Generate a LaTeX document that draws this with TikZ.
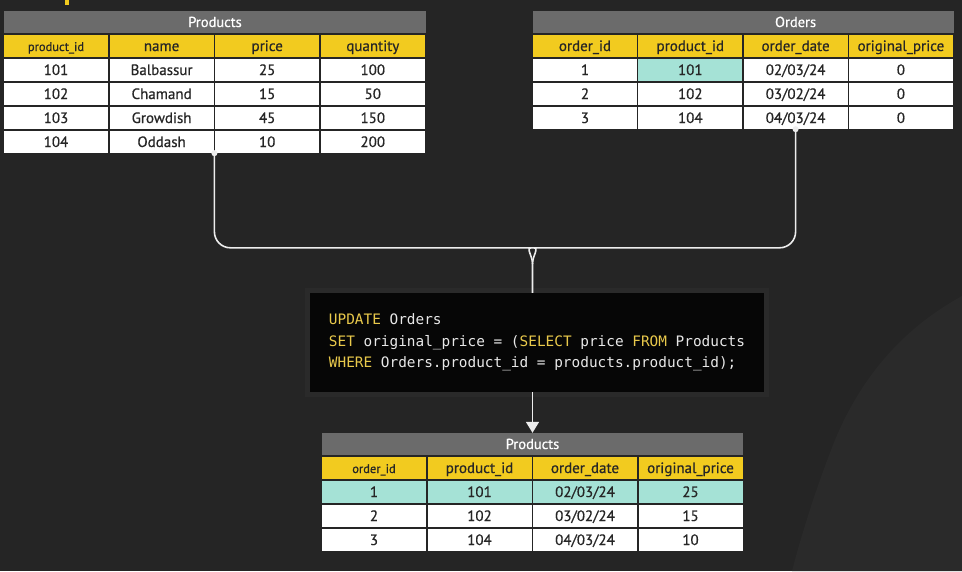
\documentclass[tikz,border=0pt]{standalone}
\usepackage{fontspec}
\setmainfont{PT Sans}[FakeBold=0.6, UprightFeatures={FakeBold=0.6}]
\newfontfamily\codefont{DejaVu Sans Mono}
\usetikzlibrary{calc, positioning, arrows.meta}

\definecolor{bgdark}{HTML}{252525}
\definecolor{bgcurve}{HTML}{2A2A2A}
\definecolor{titlegray}{HTML}{6B6B6B}
\definecolor{headyellow}{HTML}{F2CB1F}
\definecolor{rowteal}{HTML}{A5E2D6}
\definecolor{celltext}{HTML}{262626}
\definecolor{keyyellow}{HTML}{E9C94B}
\definecolor{codetext}{HTML}{E8E8E8}
\definecolor{codeblack}{HTML}{060606}
\definecolor{glowgray}{HTML}{2A2A2A}
\definecolor{linkwhite}{HTML}{EDEDED}

\newcommand{\kw}[1]{\textcolor{keyyellow}{#1}}
\newcommand{\smallhead}[1]{{\fontsize{12.5}{14}\selectfont #1}}
\newcommand{\fixspace}{\spaceskip=0.602em\relax}

\tikzset{
  cell/.style={fill=white, text=celltext, minimum width=104pt, minimum height=22pt,
    inner sep=0pt, text height=10pt, text depth=0pt, font=\fontsize{15}{17}\selectfont},
  headcell/.style={cell, fill=headyellow},
  hitcell/.style={cell, fill=rowteal},
  titlebar/.style={fill=titlegray, text=white, minimum height=22pt, inner sep=0pt,
    text height=10pt, text depth=0pt, font=\fontsize{14.5}{16}\selectfont},
  codebox/.style={fill=codeblack, text=codetext, align=left,
    inner xsep=10pt, minimum width=454pt, minimum height=99pt,
    font=\codefont\fontsize{14.4}{21.5}\selectfont\fixspace,
    preaction={draw=glowgray, line width=10pt, rounded corners=6pt}},
  link/.style={draw=linkwhite, line width=1.6pt},
}

\begin{document}
\begin{tikzpicture}[x=1pt, y=-1pt]
    % Background
    \useasboundingbox (0,0) rectangle (962,571);
    \fill[bgdark] (0,0) rectangle (962,571);
    \fill[bgcurve] (962,296) .. controls (900,330) and (860,380) .. (835,440)
        .. controls (815,490) and (800,540) .. (792,571) -- (962,571) -- cycle;
    \fill[headyellow] (65,0) rectangle (68.5,5);

    % Products table
    \node[titlebar, minimum width=422pt] (pt) at (215,22) {Products};
    \foreach \txt [count=\c] in {\smallhead{product\_id}, name, price, quantity}
        \node[headcell] (p-0-\c) at ({56+(\c-1)*105.6}, 46) {\txt};
    \foreach \a/\b/\cc/\d [count=\r] in {101/Balbassur/25/100, 102/Chamand/15/50,
                                         103/Growdish/45/150, 104/Oddash/10/200} {
        \node[cell] (p-\r-1) at (56, {46+24*\r}) {\a};
        \node[cell] (p-\r-2) at (161.6, {46+24*\r}) {\b};
        \node[cell] (p-\r-3) at (267.2, {46+24*\r}) {\cc};
        \node[cell] (p-\r-4) at (372.8, {46+24*\r}) {\d};
    }

    % Orders table
    \node[titlebar, minimum width=421pt] (ot) at (743.5,22) {};
    \foreach \txt [count=\c] in {order\_id, product\_id, order\_date, original\_price}
        \node[headcell] (o-0-\c) at ({585+(\c-1)*105.3}, 46) {\txt};
    \node[titlebar, fill=none] (otext) at (ot.center -| o-0-3) {Orders};
    \foreach \a/\b/\cc/\d [count=\r] in {1/101/02\slash 03\slash 24/0, 2/102/03\slash 02\slash 24/0,
                                         3/104/04\slash 03\slash 24/0} {
        \node[cell] (o-\r-1) at (585, {46+24*\r}) {\a};
        \node[cell] (o-\r-2) at (690.3, {46+24*\r}) {\b};
        \node[cell] (o-\r-3) at (795.6, {46+24*\r}) {\cc};
        \node[cell] (o-\r-4) at (900.9, {46+24*\r}) {\d};
    }
    \node[hitcell] (ohit) at (o-1-2) {101};

    % SQL statement
    \node[codebox] (sql) at (537,342.5) {%
        \kw{UPDATE} Orders\\
        \kw{SET} original\_price = (\kw{SELECT} price \kw{FROM} Products\\
        \kw{WHERE} Orders.product\_id = products.product\_id);};

    % Result table
    \node[titlebar, minimum width=421pt] (rt) at (532.5,444) {Products};
    \foreach \txt [count=\c] in {\smallhead{order\_id}, product\_id, order\_date, original\_price}
        \node[headcell] (r-0-\c) at ({374+(\c-1)*105.5}, 468) {\txt};
    \foreach \a/\b/\cc/\d [count=\r] in {1/101/02\slash 03\slash 24/25, 2/102/03\slash 02\slash 24/15,
                                         3/104/04\slash 03\slash 24/10} {
        \ifnum\r=1 \def\rowsty{hitcell}\else \def\rowsty{cell}\fi
        \node[\rowsty] (r-\r-1) at (374, {468+24*\r}) {\a};
        \node[\rowsty] (r-\r-2) at (479.5, {468+24*\r}) {\b};
        \node[\rowsty] (r-\r-3) at (585, {468+24*\r}) {\cc};
        \node[\rowsty] (r-\r-4) at (690.5, {468+24*\r}) {\d};
    }

    % Connectors
    \coordinate (pstart) at ($(p-4-2.south east)!0.5!(p-4-3.south west)$);
    \coordinate (sqltop) at (rt.north |- sql.north);
    \coordinate (sqlbot) at (rt.north |- sql.south);
    \coordinate (merge) at ($(sqltop)+(0,-29)$);
    \draw[link, rounded corners=16pt] (pstart) |- ($(merge)+(-17,-16)$)
        [sharp corners] .. controls ($(merge)+(-7,-16)$) and ($(merge)+(0,-8)$) .. (merge)
        -- (sqltop);
    \draw[link, rounded corners=16pt] (o-3-3.south) |- ($(merge)+(17,-16)$)
        [sharp corners] .. controls ($(merge)+(7,-16)$) and ($(merge)+(0,-8)$) .. (merge);
    \fill[linkwhite] (pstart) circle (3pt);
    \fill[linkwhite] (o-3-3.south) circle (3pt);
    \draw[link, -{Triangle[width=13pt, length=11pt]}] (sqlbot) -- (rt.north);
\end{tikzpicture}
\end{document}
